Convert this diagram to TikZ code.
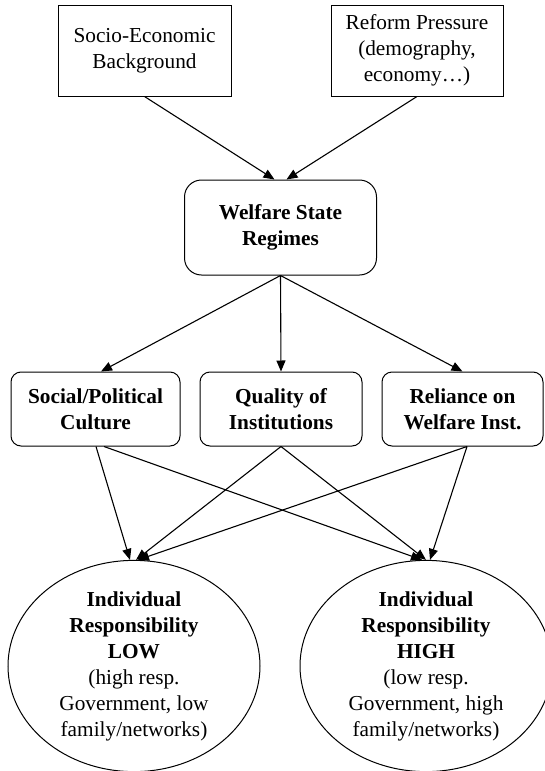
\documentclass[tikz,border=0pt]{standalone}
\usepackage{fontspec}
\setmainfont{Liberation Serif}
\usetikzlibrary{shapes.geometric, arrows.meta, positioning, calc}
\newcommand{\diagfont}{\fontsize{21.3}{26}\selectfont}

\tikzset{
    plainbox/.style={draw, line width=1pt, align=center, inner sep=0pt, minimum height=91pt},
    regimebox/.style={draw, line width=1pt, rounded corners=17pt, align=center, inner sep=0pt, font=\diagfont\bfseries},
    factorbox/.style={draw, line width=1pt, rounded corners=10pt, align=center, inner sep=0pt, minimum height=74pt, font=\diagfont\bfseries},
    outcome/.style={draw, ellipse, line width=1pt, align=center, inner sep=0pt, minimum width=252pt, minimum height=210pt},
    link/.style={-{Triangle[length=11pt,width=9pt]}, line width=1.1pt}
}

\begin{document}
\begin{tikzpicture}[x=1pt, y=-1pt, font=\diagfont]
    \useasboundingbox (0,0) rectangle (544,771);

    % Driving factors
    \node[plainbox, minimum width=173pt] (socio) at (144.5,50.5) {Socio-Economic\\Background};
    \node[plainbox, minimum width=172pt] (reform) at (417,50.5) {Reform Pressure\\(demography,\\economy…)};

    % Regime
    \node[regimebox, minimum width=192pt, minimum height=95pt] (regime) at (280.5,227.5) {Welfare State\\Regimes};

    % Mediating factors
    \node[factorbox, minimum width=169pt] (culture) at (95.5,409) {Social/Political\\Culture};
    \node[factorbox, minimum width=162pt] (quality) at (281,409) {Quality of\\Institutions};
    \node[factorbox, minimum width=161pt] (reliance) at (462.5,409) {Reliance on\\Welfare Inst.};

    % Outcomes
    \node[outcome] (low) at (134,666) {\textbf{Individual}\\\textbf{Responsibility}\\\textbf{LOW}\\(high resp.\\Government, low\\family/networks)};
    \node[outcome] (high) at (426,666) {\textbf{Individual}\\\textbf{Responsibility}\\\textbf{HIGH}\\(low resp.\\Government, high\\family/networks)};

    % Arrows
    \draw[link] (socio.south) -- ($(regime.north)+(-6,0)$);
    \draw[link] (reform.south) -- ($(regime.north)+(6,0)$);

    \draw[link] (regime.south) -- ($(culture.north)+(5.5,0)$);
    \draw[link] (regime.south) -- (quality.north);
    \draw[link] (regime.south) -- (reliance.north);

    \draw[link] ($(culture.south)+(0.5,0)$) -- ($(low.north)+(-4,0)$);
    \draw[link] ($(culture.south)+(8.5,0)$) -- ($(high.north)+(-4,0)$);
    \draw[link] (quality.south) -- ($(low.north)+(2,0)$);
    \draw[link] (quality.south) -- (high.north);
    \draw[link] ($(reliance.south)+(4.5,0)$) -- ($(low.north)+(4,0)$);
    \draw[link] ($(reliance.south)+(4.5,0)$) -- ($(high.north)+(4,0)$);
\end{tikzpicture}
\end{document}
